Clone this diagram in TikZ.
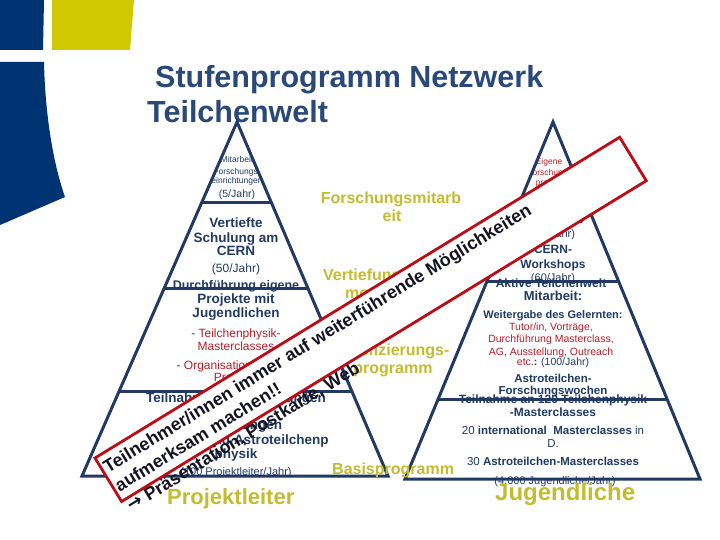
\documentclass[tikz,border=0pt]{standalone}
\usepackage{fontspec}
\setmainfont{Liberation Sans}
\newfontfamily\arrowfont{DejaVu Sans}
\usetikzlibrary{calc}
\definecolor{pyrblue}{RGB}{33,57,99}
\definecolor{titleblue}{RGB}{42,72,120}
\definecolor{logoblue}{RGB}{0,51,114}
\definecolor{logoyellow}{RGB}{208,200,0}
\definecolor{olivetxt}{RGB}{194,188,46}
\definecolor{txtred}{RGB}{185,28,40}
\definecolor{boxred}{RGB}{190,12,22}
\definecolor{boxtext}{RGB}{20,20,35}
\tikzset{
  pyr/.style={draw=pyrblue, line width=3pt},
  txreg/.style={anchor=base, inner sep=0pt, text=pyrblue, font=\fontsize{#1}{#1}\selectfont},
  txbold/.style={anchor=base, inner sep=0pt, text=pyrblue, font=\fontsize{#1}{#1}\selectfont\bfseries},
  txred/.style={anchor=base, inner sep=0pt, text=txtred, font=\fontsize{#1}{#1}\selectfont},
  txyel/.style={anchor=base west, inner sep=0pt, text=olivetxt, font=\fontsize{#1}{#1}\selectfont\bfseries},
  txyelc/.style={anchor=base, inner sep=0pt, text=olivetxt, font=\fontsize{#1}{#1}\selectfont\bfseries},
  titletxt/.style={anchor=base west, inner sep=0pt, text=titleblue, font=\fontsize{30.5}{30.5}\selectfont\bfseries},
  boxtxt/.style={anchor=base west, inner sep=0pt, text=boxtext, font=\fontsize{18}{18}\selectfont\bfseries, transform shape},
  redbox/.style={draw=boxred, line width=2.8pt, fill=white}
}
\begin{document}
\begin{tikzpicture}[x=1pt,y=-1pt]
\useasboundingbox (0,0) rectangle (720,540);
% logo
\fill[logoblue] (0,0) -- (44,0) -- (43,50) -- (0,50) -- cycle;
\fill[logoyellow] (52,0) -- (134,0) -- (130,50) -- (52,50) -- cycle;
\fill[logoblue] (0,62) -- (44,62) .. controls (45,110) and (52,160) .. (65,197) -- (0,225) -- cycle;
% title
\node[titletxt] (title1) at (155,88) {Stufenprogramm Netzwerk};
\node[titletxt] (title2) at (147,123) {Teilchenwelt};
% pyramid corners
\coordinate (LA) at (237,122);
\coordinate (LBL) at (82,476);
\coordinate (LBR) at (388,476);
\coordinate (RA) at (553,122);
\coordinate (RBL) at (405,479);
\coordinate (RBR) at (700,479);
% left pyramid texts
\begin{scope}
\clip (LA) -- (LBL) -- (LBR) -- cycle;
\node[txreg=8.5] (lm1) at (237,163) {Mitarbeit};
\node[txreg=8.5] (lm2) at (237,175) {Forschungs-};
\node[txreg=8.5] (lm3) at (237,184) {einrichtungen};
\end{scope}
\node[txreg=10.5] (lm4) at (237,198) {(5/Jahr)};
\node[txbold=13.5] (lv1) at (236,227) {Vertiefte};
\node[txbold=13.5] (lv2) at (236,242) {Schulung am};
\node[txbold=13.5] (lv3) at (236,255) {CERN};
\node[txreg=12] (lv4) at (236,272) {(50/Jahr)};
\node[txbold=12.5] (lv5) at (236,289) {Durchführung eigene};
\node[txbold=13.5] (lp1) at (236,303) {Projekte mit};
\node[txbold=13.5] (lp2) at (236,317) {Jugendlichen};
\node[txreg=12] (lp3) at (236,337) {- \textcolor{txtred}{Teilchenphysik-}};
\node[txred=12] (lp4) at (236,350) {Masterclasses};
\node[txreg=12] (lp5) at (236,369) {- \textcolor{txtred}{Organisation eigener}};
\node[txred=12] (lp6) at (236,381) {Projekte};
\node[txbold=13.5] (lb1) at (236,402) {Teilnahme an Fortbildungen};
\node[txbold=13.5] (lb2) at (236,429) {und Tagungen};
\node[txbold=13.5] (lb3) at (236,444) {Teilchen- und Astroteilchenp};
\node[txbold=13.5] (lb4) at (236,458) {physik};
\node[txreg=11] (lb5) at (236,475) {(100 Projektleiter/Jahr)};
% right pyramid texts
\begin{scope}
\clip (RA) -- (RBL) -- (RBR) -- cycle;
\node[txred=8.5] (re1) at (549,165) {Eigene};
\node[txred=8.5] (re2) at (551,176) {Forschungs-};
\node[txred=8.5] (re3) at (551,186) {projekte};
\end{scope}
\node[txbold=12] (rk1) at (553,224) {Kampagne};
\node[txreg=11] (rk2) at (553,237) {(10/Jahr)};
\node[txbold=12] (rc1) at (553,254) {CERN-};
\node[txbold=12] (rc2) at (553,268) {Workshops};
\node[txreg=11] (rc3) at (553,281) {(60/Jahr)};
\node[txbold=12] (ra1) at (551,287) {Aktive Teilchenwelt};
\node[txbold=13] (ra2) at (553,300) {Mitarbeit:};
\node[txbold=11] (ra3) at (553,318) {Weitergabe des Gelernten:};
\node[txred=10.5] (ra4) at (551,330) {Tutor/in, Vorträge,};
\node[txred=10.5] (ra5) at (551,342) {Durchführung Masterclass,};
\node[txred=10.5] (ra6) at (551,355) {AG, Ausstellung, Outreach};
\node[txreg=10.5] (ra7) at (553,365) {\textcolor{txtred}{etc.}\textbf{:} (100/Jahr)};
\node[txbold=11.5] (ra8) at (553,382) {Astroteilchen-};
\node[txbold=11.5] (ra9) at (553,394) {Forschungswochen};
\node[txbold=12] (rm1) at (553,403) {Teilnahme an 120 Teilchenphysik};
\node[txbold=12] (rm2) at (553,416) {-Masterclasses};
\node[txreg=11.5] (rm3) at (553,434) {20 \textbf{international\ \ Masterclasses} in};
\node[txreg=11.5] (rm4) at (553,447) {D.};
\node[txreg=11.5] (rm5) at (553,465) {30 \textbf{Astroteilchen-Masterclasses}};
\node[txreg=11] (rm6) at (555,484) {(4.000 Jugendliche/Jahr)};
% pyramid outlines
\draw[pyr] (LA) -- (LBL) -- (LBR) -- cycle;
\draw[pyr] ($(LA)!0.226!(LBL)$) -- ($(LA)!0.226!(LBR)$);
\draw[pyr] ($(LA)!0.469!(LBL)$) -- ($(LA)!0.469!(LBR)$);
\draw[pyr] ($(LA)!0.760!(LBL)$) -- ($(LA)!0.760!(LBR)$);
\draw[pyr] (RA) -- (RBL) -- (RBR) -- cycle;
\draw[pyr] ($(RA)!0.448!(RBL)$) -- ($(RA)!0.448!(RBR)$);
\draw[pyr] ($(RA)!0.776!(RBL)$) -- ($(RA)!0.776!(RBR)$);
% olive labels
\node[txyelc=16] (yf1) at (391,204) {Forschungsmitarb};
\node[txyelc=16] (yf2) at (392,222) {eit};
\node[txyel=16] (yv1) at (323,280) {Vertiefungs-};
\node[txyel=16] (yv2) at (345,298) {modul};
\node[txyelc=16] (yq1) at (389,355) {Qualifizierungs-};
\node[txyelc=16] (yq2) at (393,373) {programm};
\node[txyel=16] (ybp) at (332,474) {Basisprogramm};
\node[txyel=22] (ypl) at (167,504) {Projektleiter};
\node[txyel=24] (yjg) at (495,500) {Jugendliche};
% red box with note
\begin{scope}[shift={(95,458)}, rotate=31.44]
\draw[redbox] (0,0) rectangle (615,51);
\node[boxtxt] (bt1) at (3,20) {Teilnehmer/innen immer auf weiterführende Möglichkeiten};
\node[boxtxt] (bt2) at (3,42) {aufmerksam machen!!};
\node[boxtxt] (bt3) at (3,65) {{\arrowfont →} Präsentation, Postkarte, Web};
\end{scope}
\end{tikzpicture}
\end{document}
